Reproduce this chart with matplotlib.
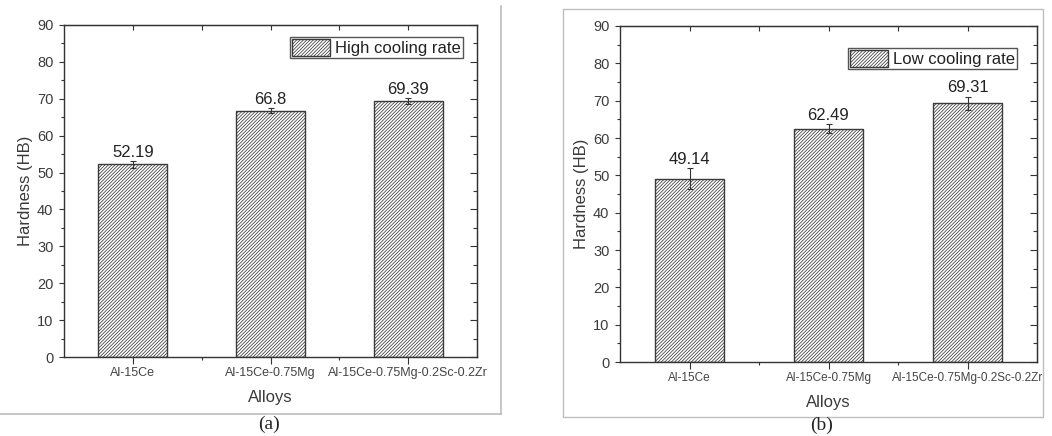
import matplotlib
matplotlib.use("Agg")
import matplotlib.pyplot as plt
from matplotlib.lines import Line2D
from matplotlib.patches import Rectangle
from matplotlib.ticker import MultipleLocator, FixedLocator
import numpy as np

# ---- data -------------------------------------------------------------
alloys = ["Al-15Ce", "Al-15Ce-0.75Mg", "Al-15Ce-0.75Mg-0.2Sc-0.2Zr"]
hardness_high = [52.19, 66.8, 69.39]
err_high = [1.0, 0.7, 0.8]
hardness_low = [49.14, 62.49, 69.31]
err_low = [2.8, 1.2, 1.8]
legend_labels = ["High cooling rate", "Low cooling rate"]
panel_tags = ["(a)", "(b)"]
y_ticks = list(range(0, 91, 10))

# ---- style ------------------------------------------------------------
plt.rcParams["font.family"] = ["Liberation Sans", "DejaVu Sans"]
plt.rcParams["hatch.linewidth"] = 0.55
plt.rcParams["hatch.color"] = "#4a4a4a"

W, H = 1052, 436
fig = plt.figure(figsize=(W / 100, H / 100), dpi=100)
fig.patch.set_facecolor("white")

INK = "#333333"


def px_rect(l, t, r, b):
    return [l / W, 1 - b / H, (r - l) / W, (b - t) / H]


def draw_panel(ax, values, errors, label, leg_anchor, tick_fs):
    x = np.arange(len(alloys))
    ax.bar(x, values, width=0.5, color="white", edgecolor="#3a3a3a",
           linewidth=1.0, hatch="//////////", label=label, zorder=2)
    ax.errorbar(x, values, yerr=errors, fmt="none", ecolor=INK,
                elinewidth=0.8, capsize=2, capthick=0.8, zorder=3)
    for xi, v, e in zip(x, values, errors):
        ax.annotate(f"{v:g}", (xi, v + e), xytext=(0, 0.8),
                    textcoords="offset points", ha="center", va="bottom",
                    fontsize=12, color="#222222")

    ax.set_xlim(-0.5, len(alloys) - 0.5)
    ax.set_ylim(0, 90)

    # bottom / left axes: ticks outward
    ax.set_xticks(x)
    ax.set_xticklabels(alloys, fontsize=tick_fs, color="#444444")
    ax.xaxis.set_minor_locator(FixedLocator([0.5, 1.5]))
    ax.set_yticks(y_ticks)
    ax.yaxis.set_minor_locator(MultipleLocator(5))
    ax.tick_params(axis="x", which="major", direction="out", length=4.8,
                   width=0.8, color=INK, pad=2.5)
    ax.tick_params(axis="x", which="minor", direction="out", length=2.5,
                   width=0.8, color=INK)
    ax.tick_params(axis="y", which="major", direction="out", length=3.6,
                   width=0.8, color=INK, pad=4, labelsize=10.5,
                   labelcolor="#3c3c3c")
    ax.tick_params(axis="y", which="minor", direction="out", length=2.2,
                   width=0.8, color=INK)
    for sp in ax.spines.values():
        sp.set_color(INK)
        sp.set_linewidth(1.0)

    # top / right mirror axes: ticks inward, no labels
    top = ax.secondary_xaxis("top")
    top.set_xticks([0, 0.5, 1, 1.5, 2])
    top.tick_params(direction="in", length=3.8, width=0.8, color=INK,
                    labeltop=False)
    top.spines["top"].set_color(INK)
    right = ax.secondary_yaxis("right")
    right.set_yticks(y_ticks)
    right.yaxis.set_minor_locator(MultipleLocator(5))
    right.tick_params(which="major", direction="in", length=5, width=0.8,
                      color=INK, labelright=False)
    right.tick_params(which="minor", direction="in", length=2.9, width=0.8,
                      color=INK)
    right.spines["right"].set_color(INK)

    ax.set_ylabel("Hardness (HB)", fontsize=12, color="#3a3a3a",
                  labelpad=3)
    ax.set_xlabel("Alloys", fontsize=12, color="#3a3a3a", labelpad=8)

    leg = ax.legend(loc="upper right", bbox_to_anchor=leg_anchor,
                    fontsize=12, frameon=True, fancybox=False,
                    edgecolor="#2a2a2a", borderpad=0.12, borderaxespad=0,
                    handlelength=2.3, handleheight=1.2, handletextpad=0.3)
    leg.get_frame().set_linewidth(1.0)
    for t in leg.get_texts():
        t.set_color("#222222")


ax_a = fig.add_axes(px_rect(64, 25, 477, 357))
draw_panel(ax_a, hardness_high, err_high, legend_labels[0],
           (0.966, 0.964), 9.0)

ax_b = fig.add_axes(px_rect(620, 26, 1037, 362))
draw_panel(ax_b, hardness_low, err_low, legend_labels[1],
           (0.952, 0.935), 8.5)

# ---- page frame lines around the panels -------------------------------
FRAME = "#bdbdbd"
fig.add_artist(Line2D([501 / W, 501 / W], [1 - 6 / H, 1 - 414 / H],
                      transform=fig.transFigure, color=FRAME, lw=1.2))
fig.add_artist(Line2D([0, 501 / W], [1 - 414 / H, 1 - 414 / H],
                      transform=fig.transFigure, color=FRAME, lw=1.2))
fig.add_artist(Rectangle((563 / W, 1 - 417 / H), (1043 - 563) / W,
                         (417 - 9) / H, transform=fig.transFigure,
                         fill=False, edgecolor=FRAME, lw=1.0))

# ---- panel tags --------------------------------------------------------
fig.text(269 / W, 1 - 424 / H, panel_tags[0], ha="center", va="center",
         fontsize=14, family="Liberation Serif", color="#222222")
fig.text(822 / W, 1 - 425 / H, panel_tags[1], ha="center", va="center",
         fontsize=14, family="Liberation Serif", color="#222222")

fig.savefig("out.png", dpi=100, facecolor="white")
